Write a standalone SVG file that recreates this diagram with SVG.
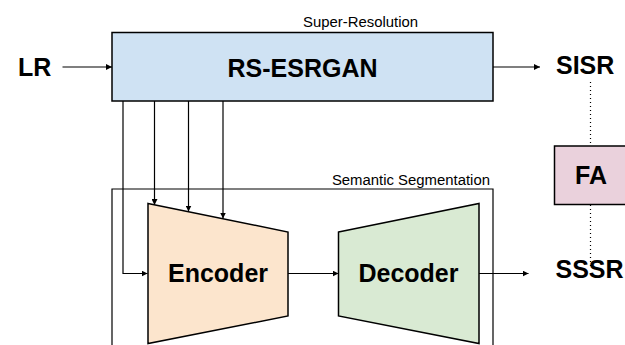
<svg xmlns="http://www.w3.org/2000/svg" width="625" height="345" viewBox="0 0 625 345">
  <style>
    .box { stroke: #000; stroke-width: 1.5; }
    .frame { fill: none; stroke: #000; stroke-width: 1.2; }
    .big { font-family: "Liberation Sans", Arial, sans-serif; font-weight: bold; font-size: 25px; fill: #000; }
    .small { font-family: "Liberation Sans", Arial, sans-serif; font-size: 14.9px; fill: #000; }
    .wire { fill: none; stroke: #000; stroke-width: 1.2; }
    .dots { fill: none; stroke: #000; stroke-width: 1.2; stroke-dasharray: 1 3; }
  </style>
  <defs>
    <marker id="arrow" viewBox="0 0 10 10" refX="10" refY="5" markerWidth="6" markerHeight="6" markerUnits="userSpaceOnUse" orient="auto">
      <path d="M0,0 L10,5 L0,10 z" fill="#000"/>
    </marker>
  </defs>
  <rect width="625" height="345" fill="#fff"/>

  <!-- Semantic segmentation frame (runs off the bottom) -->
  <g id="seg-frame">
    <path class="frame" d="M112,360 L112,189 L493,189 L493,360"/>
    <text class="small" x="490" y="185" text-anchor="end">Semantic Segmentation</text>
  </g>

  <!-- Super-resolution network -->
  <g id="rs-esrgan">
    <text class="small" x="303" y="27">Super-Resolution</text>
    <rect class="box" x="112" y="32.5" width="381" height="68.5" fill="#cfe2f3"/>
    <text class="big" x="302.5" y="77" text-anchor="middle">RS-ESRGAN</text>
  </g>

  <g id="encoder">
    <polygon class="box" points="148,203.5 288,232 288,316 148,343.5" fill="#fce5cd"/>
    <text class="big" x="218" y="281.5" text-anchor="middle">Encoder</text>
  </g>

  <g id="decoder">
    <polygon class="box" points="338.5,232 479,203.5 479,343.5 338.5,316" fill="#d9ead3"/>
    <text class="big" x="408.5" y="281.5" text-anchor="middle">Decoder</text>
  </g>

  <g id="fa">
    <rect class="box" x="554.5" y="146" width="80" height="58.5" fill="#ead1dc"/>
    <text class="big" x="591" y="183.5" text-anchor="middle">FA</text>
  </g>

  <g id="lr"><text class="big" x="18" y="75.5">LR</text></g>
  <g id="sisr"><text class="big" x="556" y="73.5">SISR</text></g>
  <g id="sssr"><text class="big" x="555.5" y="277.5">SSSR</text></g>

  <g id="connectors">
    <line class="wire" x1="62.5" y1="67" x2="112" y2="67" marker-end="url(#arrow)"/>
    <line class="wire" x1="493" y1="67" x2="540" y2="67" marker-end="url(#arrow)"/>
    <polyline class="wire" points="123,101 123,273.5 147.5,273.5" marker-end="url(#arrow)"/>
    <line class="wire" x1="154.5" y1="101" x2="154.5" y2="205" marker-end="url(#arrow)"/>
    <line class="wire" x1="188.5" y1="101" x2="188.5" y2="211.5" marker-end="url(#arrow)"/>
    <line class="wire" x1="223" y1="101" x2="223" y2="218.5" marker-end="url(#arrow)"/>
    <line class="wire" x1="288" y1="273.5" x2="338.5" y2="273.5" marker-end="url(#arrow)"/>
    <line class="wire" x1="479" y1="273.5" x2="528.5" y2="273.5" marker-end="url(#arrow)"/>
    <line class="dots" x1="590.5" y1="82" x2="590.5" y2="146"/>
    <line class="dots" x1="590.5" y1="205" x2="590.5" y2="268"/>
  </g>
</svg>
